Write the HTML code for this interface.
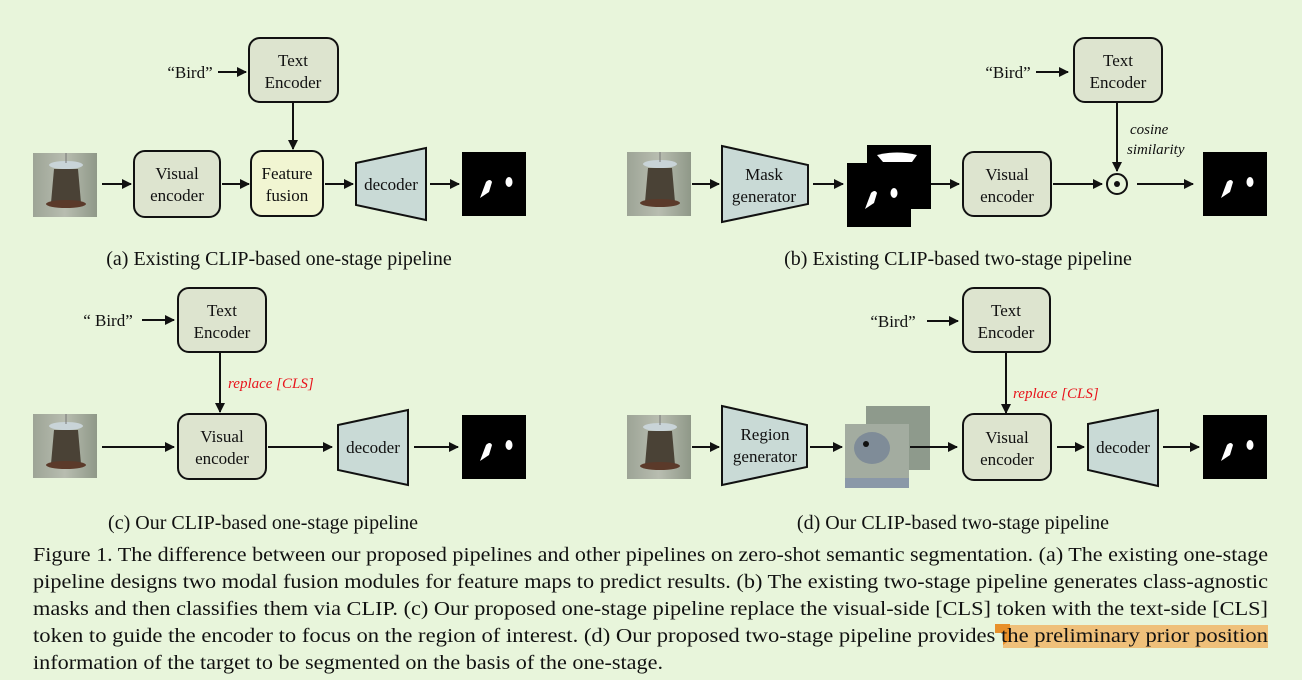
<!DOCTYPE html>
<html><head><meta charset="utf-8"><style>
html,body{margin:0;padding:0;background:#e8f5db;}
svg{display:block}
.t{font-family:"Liberation Serif","Times New Roman",Times,serif;font-size:17px;fill:#111;text-anchor:middle}
.c{font-family:"Liberation Serif","Times New Roman",Times,serif;font-size:20px;fill:#111}
.cap{font-family:"Liberation Serif","Times New Roman",Times,serif;font-size:20px;fill:#111;text-anchor:middle}
.r{font-family:"Liberation Serif","DejaVu Serif",serif;font-style:italic;font-size:15px;fill:#e8141c}
.i{font-family:"Liberation Serif","DejaVu Serif",serif;font-style:italic;font-size:15px;fill:#111}
.b{fill:#dde4cf;stroke:#111;stroke-width:2}
.tr{fill:#c9dad6;stroke:#111;stroke-width:2}
.l{stroke:#111;stroke-width:2;fill:none;marker-end:url(#a)}
</style></head><body>
<svg width="1302" height="680" viewBox="0 0 1302 680">
<defs>
<marker id="a" markerWidth="10" markerHeight="10" refX="9" refY="5" orient="auto" markerUnits="userSpaceOnUse"><path d="M0,0 L10,5 L0,10 z" fill="#111"/></marker>
<linearGradient id="bg" x1="0" x2="1"><stop offset="0" stop-color="#9da496"/><stop offset="0.5" stop-color="#b8bdb0"/><stop offset="1" stop-color="#8f9888"/></linearGradient>
<g id="feeder"><rect width="64" height="64" fill="url(#bg)"/><ellipse cx="33" cy="12" rx="17" ry="4" fill="#c9d4d8"/><path d="M21,16 L45,16 L48,50 L18,50z" fill="#4a4236"/><ellipse cx="33" cy="51" rx="20" ry="4" fill="#5b3a2a"/><line x1="33" y1="0" x2="33" y2="10" stroke="#777"/></g>
<g id="mask"><rect width="64" height="64" fill="#000"/><path d="M18,46 L24,30 Q28,26 30,30 L27,40z" fill="#fff"/><ellipse cx="47" cy="30" rx="3.5" ry="5" fill="#fff"/></g>
</defs>

<text class="t" x="190" y="78">“Bird”</text>
<line class="l" x1="218" y1="72" x2="246" y2="72"/>
<rect class="b" x="249" y="38" width="89" height="64" rx="11"/>
<text class="t" x="293" y="66">Text</text><text class="t" x="293" y="88">Encoder</text>
<line class="l" x1="293" y1="102" x2="293" y2="149"/>
<use href="#feeder" x="33" y="153"/>
<line class="l" x1="102" y1="184" x2="131" y2="184"/>
<rect class="b" x="134" y="151" width="86" height="66" rx="11"/>
<text class="t" x="177" y="179">Visual</text><text class="t" x="177" y="201">encoder</text>
<line class="l" x1="222" y1="184" x2="249" y2="184"/>
<rect x="251" y="151" width="72" height="65" rx="11" fill="#f1f5d2" stroke="#111" stroke-width="2"/>
<text class="t" x="287" y="179">Feature</text><text class="t" x="287" y="201">fusion</text>
<line class="l" x1="325" y1="184" x2="353" y2="184"/>
<path class="tr" d="M356,163 L426,148 L426,220 L356,205z"/>
<text class="t" x="391" y="190">decoder</text>
<line class="l" x1="430" y1="184" x2="459" y2="184"/>
<use href="#mask" x="462" y="152"/>
<text class="cap" x="279" y="265">(a) Existing CLIP-based one-stage pipeline</text>

<text class="t" x="1008" y="78">“Bird”</text>
<line class="l" x1="1036" y1="72" x2="1068" y2="72"/>
<rect class="b" x="1074" y="38" width="88" height="64" rx="11"/>
<text class="t" x="1118" y="66">Text</text><text class="t" x="1118" y="88">Encoder</text>
<line class="l" x1="1117" y1="102" x2="1117" y2="171"/>
<text class="i" x="1130" y="134">cosine</text><text class="i" x="1127" y="154">similarity</text>
<use href="#feeder" x="627" y="152"/>
<line class="l" x1="692" y1="184" x2="719" y2="184"/>
<path class="tr" d="M722,146 L808,165 L808,204 L722,222z"/>
<text class="t" x="764" y="180">Mask</text><text class="t" x="764" y="202">generator</text>
<line class="l" x1="813" y1="184" x2="843" y2="184"/>
<rect x="867" y="145" width="64" height="64" fill="#000"/>
<path d="M877,155 Q897,150 917,155 L912,162 L883,162z" fill="#fff"/>
<g transform="translate(847,163)"><use href="#mask"/></g>
<line class="l" x1="931" y1="184" x2="959" y2="184"/>
<rect class="b" x="963" y="152" width="88" height="64" rx="11"/>
<text class="t" x="1007" y="180">Visual</text><text class="t" x="1007" y="202">encoder</text>
<line class="l" x1="1053" y1="184" x2="1102" y2="184"/>
<circle cx="1117" cy="184" r="10" fill="none" stroke="#111" stroke-width="2"/><circle cx="1117" cy="184" r="3" fill="#111"/>
<line class="l" x1="1137" y1="184" x2="1193" y2="184"/>
<use href="#mask" x="1203" y="152"/>
<text class="cap" x="958" y="265">(b) Existing CLIP-based two-stage pipeline</text>

<text class="t" x="108" y="326">“ Bird”</text>
<line class="l" x1="142" y1="320" x2="174" y2="320"/>
<rect class="b" x="178" y="288" width="88" height="64" rx="11"/>
<text class="t" x="222" y="316">Text</text><text class="t" x="222" y="338">Encoder</text>
<line class="l" x1="220" y1="352" x2="220" y2="412"/>
<text class="r" x="228" y="388">replace [CLS]</text>
<use href="#feeder" x="33" y="414"/>
<line class="l" x1="102" y1="447" x2="174" y2="447"/>
<rect class="b" x="178" y="414" width="88" height="65" rx="11"/>
<text class="t" x="222" y="442">Visual</text><text class="t" x="222" y="464">encoder</text>
<line class="l" x1="268" y1="447" x2="332" y2="447"/>
<path class="tr" d="M338,425 L408,410 L408,485 L338,470z"/>
<text class="t" x="373" y="453">decoder</text>
<line class="l" x1="414" y1="447" x2="458" y2="447"/>
<use href="#mask" x="462" y="415"/>
<text class="cap" x="263" y="529">(c) Our CLIP-based one-stage pipeline</text>

<text class="t" x="893" y="327">“Bird”</text>
<line class="l" x1="927" y1="321" x2="958" y2="321"/>
<rect class="b" x="963" y="288" width="87" height="64" rx="11"/>
<text class="t" x="1006" y="316">Text</text><text class="t" x="1006" y="338">Encoder</text>
<line class="l" x1="1006" y1="352" x2="1006" y2="413"/>
<text class="r" x="1013" y="398">replace [CLS]</text>
<use href="#feeder" x="627" y="415"/>
<line class="l" x1="692" y1="447" x2="719" y2="447"/>
<path class="tr" d="M722,406 L807,425 L807,467 L722,485z"/>
<text class="t" x="765" y="440">Region</text><text class="t" x="765" y="462">generator</text>
<line class="l" x1="810" y1="447" x2="842" y2="447"/>
<rect x="866" y="406" width="64" height="64" fill="#8e9a8c"/>
<rect x="845" y="424" width="64" height="64" fill="#a3aca0"/>
<ellipse cx="872" cy="448" rx="18" ry="16" fill="#7f8c98"/><circle cx="866" cy="444" r="3" fill="#111"/>
<path d="M845,478 L909,478 L909,488 L845,488z" fill="#8a98a8"/>
<line class="l" x1="910" y1="447" x2="957" y2="447"/>
<rect class="b" x="963" y="414" width="88" height="66" rx="11"/>
<text class="t" x="1007" y="443">Visual</text><text class="t" x="1007" y="465">encoder</text>
<line class="l" x1="1057" y1="447" x2="1084" y2="447"/>
<path class="tr" d="M1088,424 L1158,410 L1158,486 L1088,470z"/>
<text class="t" x="1123" y="453">decoder</text>
<line class="l" x1="1163" y1="447" x2="1199" y2="447"/>
<use href="#mask" x="1203" y="415"/>
<text class="cap" x="953" y="529">(d) Our CLIP-based two-stage pipeline</text>

<rect x="1003" y="625" width="265" height="23" fill="#efc07a"/>
<path d="M995,624 L1010,624 L1010,640 L1003,645 L1003,633 L995,633z" fill="#e8902a"/>
<text class="c" x="33" y="561" textLength="1235" lengthAdjust="spacingAndGlyphs">Figure 1. The difference between our proposed pipelines and other pipelines on zero-shot semantic segmentation. (a) The existing one-stage</text>
<text class="c" x="33" y="588" textLength="1235" lengthAdjust="spacingAndGlyphs">pipeline designs two modal fusion modules for feature maps to predict results. (b) The existing two-stage pipeline generates class-agnostic</text>
<text class="c" x="33" y="615" textLength="1235" lengthAdjust="spacingAndGlyphs">masks and then classifies them via CLIP. (c) Our proposed one-stage pipeline replace the visual-side [CLS] token with the text-side [CLS]</text>
<text class="c" x="33" y="642" textLength="1235" lengthAdjust="spacingAndGlyphs">token to guide the encoder to focus on the region of interest.  (d) Our proposed two-stage pipeline provides the preliminary prior position</text>
<text class="c" x="33" y="669" textLength="630" lengthAdjust="spacingAndGlyphs">information of the target to be segmented on the basis of the one-stage.</text>
</svg>
</body></html>
